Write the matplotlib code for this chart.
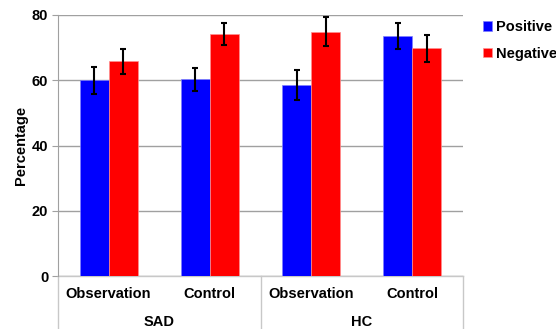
import matplotlib.pyplot as plt
import numpy as np

plt.rcParams['font.family'] = ['Liberation Sans', 'DejaVu Sans']
plt.rcParams['font.weight'] = 'bold'

conditions = ['Observation', 'Control', 'Observation', 'Control']
groups = ['SAD', 'HC']
positive = [60.0, 60.3, 58.6, 73.5]
negative = [65.8, 74.3, 74.9, 69.8]
positive_err = [4.2, 3.6, 4.6, 4.0]
negative_err = [3.9, 3.4, 4.4, 4.2]

fig = plt.figure(figsize=(5.56, 3.29), dpi=100)
ax = fig.add_axes([58 / 556, 1 - 276 / 329, 405 / 556, 261 / 329])

x = np.arange(len(conditions))
w = 0.287
ax.bar(x - w / 2, positive, w, color='#0000FF', edgecolor='#8080ff', linewidth=0.5,
       yerr=positive_err, error_kw=dict(ecolor='black', elinewidth=1.5, capsize=2, capthick=1.5),
       label='Positive', zorder=3)
ax.bar(x + w / 2, negative, w, color='#FF0000', edgecolor='#ff9090', linewidth=0.5,
       yerr=negative_err, error_kw=dict(ecolor='black', elinewidth=1.5, capsize=2, capthick=1.5),
       label='Negative', zorder=3)

ax.set_xlim(-0.5, 3.5)
ax.set_ylim(0, 80)
ax.set_yticks([0, 20, 40, 60, 80])
ax.yaxis.grid(True, color='#a0a0a0', linewidth=1)
ax.set_axisbelow(True)
for s in ['top', 'right', 'bottom']:
    ax.spines[s].set_visible(False)
ax.spines['left'].set_color('#a0a0a0')
ax.tick_params(axis='y', length=4, color='#a0a0a0', labelsize=10.5, pad=3)
ax.tick_params(axis='x', length=0)
ax.set_xticks([])

ax.set_ylabel('Percentage', fontsize=10.5, fontweight='bold', labelpad=3)

# category labels and group labels under the axis
trans = ax.get_xaxis_transform()
for i, c in enumerate(conditions):
    ax.text(i, -0.07, c, transform=trans, ha='center', va='center', fontsize=10.5, fontweight='bold')
for j, g in enumerate(groups):
    ax.text(2 * j + 0.5, -0.177, g, transform=trans, ha='center', va='center', fontsize=10.5, fontweight='bold')
for xs in [-0.5, 1.5, 3.5]:
    ax.plot([xs, xs], [0, -0.22], transform=trans, color='#c8c8c8', linewidth=1, clip_on=False)
ax.plot([-0.5, 3.5], [0, 0], transform=trans, color='#c8c8c8', linewidth=1, clip_on=False)

ax.legend(loc='upper left', bbox_to_anchor=(1.05, 0.98), frameon=False, fontsize=10.5,
          borderaxespad=0, borderpad=0,
          handlelength=0.6, handleheight=0.6, handletextpad=0.3, labelspacing=0.85)

fig.savefig('out.png', dpi=100)
